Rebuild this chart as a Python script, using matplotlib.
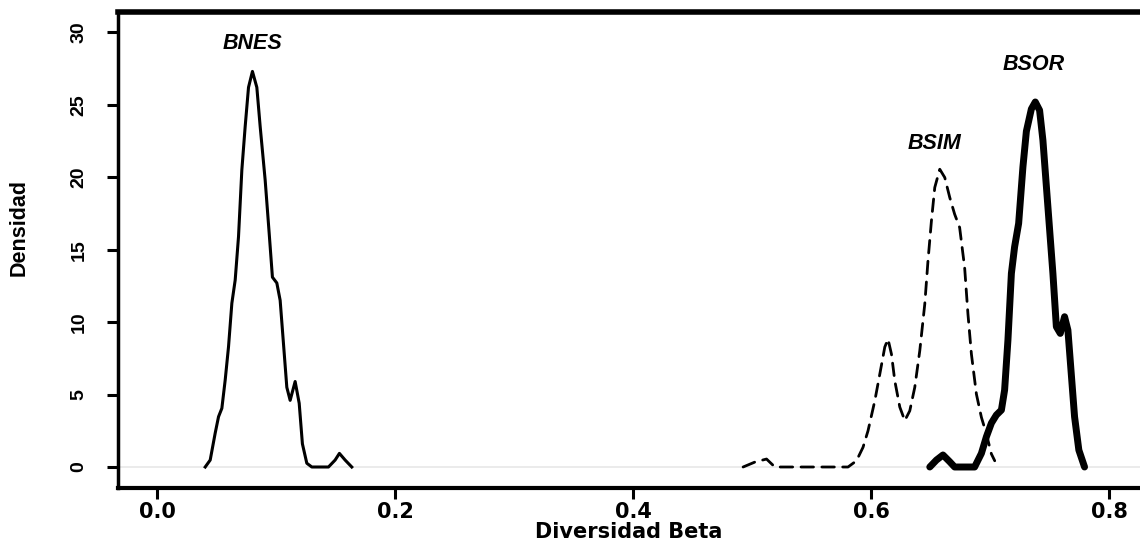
import matplotlib.pyplot as plt

# curvas de densidad
bnes_x = [0.0403, 0.0445, 0.0487, 0.0515, 0.0543, 0.0571, 0.0599, 0.0627, 0.0655,
          0.0683, 0.0711, 0.0739, 0.0767, 0.0800, 0.0837, 0.0865, 0.0907, 0.0941,
          0.0968, 0.1005, 0.1033, 0.1061, 0.1089, 0.1117, 0.1159, 0.1193, 0.1220,
          0.1257, 0.1299, 0.1439, 0.1495, 0.1531, 0.1579, 0.1635]
bnes_y = [0.0, 0.48, 2.34, 3.47, 4.05, 6.0, 8.3, 11.3, 12.9,
          15.9, 20.5, 23.5, 26.2, 27.3, 26.2, 23.5, 19.8, 16.1,
          13.1, 12.7, 11.5, 8.5, 5.5, 4.6, 5.9, 4.4, 1.6,
          0.26, 0.0, 0.0, 0.48, 0.94, 0.48, 0.0]

bsim_x = [0.4924, 0.5023, 0.5121, 0.5191, 0.5806, 0.5877, 0.5932, 0.5974, 0.6031,
          0.6073, 0.6115, 0.6142, 0.6171, 0.6199, 0.6241, 0.6283, 0.6325, 0.6367,
          0.6409, 0.6451, 0.6478, 0.6507, 0.6535, 0.6577, 0.6619, 0.6661, 0.6702,
          0.6744, 0.6786, 0.6814, 0.6843, 0.6885, 0.6927, 0.6969, 0.7011, 0.7039]
bsim_y = [0.0, 0.34, 0.55, 0.0, 0.0, 0.43, 1.36, 2.5, 4.57,
          6.41, 8.28, 8.83, 7.79, 5.95, 4.14, 3.2, 3.88, 5.5,
          8.02, 11.24, 14.23, 16.99, 19.29, 20.55, 19.98, 18.6, 17.45,
          16.53, 13.77, 10.55, 7.79, 5.03, 3.43, 2.28, 0.9, 0.43]

bsor_x = [0.6493, 0.6549, 0.6604, 0.6660, 0.6702, 0.6870, 0.6927, 0.6969, 0.7011,
          0.7053, 0.7095, 0.7122, 0.7150, 0.7179, 0.7206, 0.7240, 0.7276, 0.7305,
          0.7347, 0.7380, 0.7416, 0.7444, 0.7486, 0.7528, 0.7557, 0.7590, 0.7626,
          0.7654, 0.7682, 0.7710, 0.7746, 0.7794]
bsor_y = [0.0, 0.48, 0.83, 0.37, 0.0, 0.0, 0.94, 2.09, 3.03,
          3.59, 3.93, 5.31, 8.76, 13.36, 15.19, 16.81, 20.71, 23.17,
          24.71, 25.19, 24.62, 22.55, 17.95, 13.36, 9.68, 9.22, 10.37,
          9.45, 6.46, 3.47, 1.17, 0.0]

labels = ['BNES', 'BSIM', 'BSOR']
label_x = [0.080, 0.653, 0.737]
label_y = [29.2, 22.3, 27.8]

fig = plt.figure(figsize=(11.4, 5.46), dpi=100)
ax = fig.add_axes([0.1035, 0.1062, 0.8965, 0.8718])

ax.axhline(0, color='#e8e8e8', lw=1.2, zorder=0)
ax.plot(bnes_x, bnes_y, color='black', lw=2.2, solid_joinstyle='round')
ax.plot(bsim_x, bsim_y, color='black', lw=2.0, linestyle=(0, (4.5, 3)),
        dash_capstyle='round')
ax.plot(bsor_x, bsor_y, color='black', lw=5.0, solid_joinstyle='round',
        solid_capstyle='round')

for t, x, y in zip(labels, label_x, label_y):
    ax.text(x, y, t, ha='center', va='center', fontsize=15.5, fontweight='bold',
            style='italic', family='Liberation Sans')

ax.set_xlim(-0.033, 0.826)
ax.set_ylim(-1.45, 31.4)
ax.set_xticks([0.0, 0.2, 0.4, 0.6, 0.8])
ax.set_xticklabels(['0.0', '0.2', '0.4', '0.6', '0.8'])
ax.set_yticks([0, 5, 10, 15, 20, 25, 30])

for lab in ax.get_xticklabels():
    lab.set_fontsize(15)
    lab.set_fontweight('bold')
    lab.set_family('DejaVu Sans')
for lab in ax.get_yticklabels():
    lab.set_fontsize(14)
    lab.set_fontweight('bold')
    lab.set_family('Liberation Sans')
    lab.set_rotation(90)
    lab.set_va('center')

ax.tick_params(axis='both', length=8, width=2.2, color='black')
ax.tick_params(axis='x', pad=2)
ax.tick_params(axis='y', pad=14)

ax.spines['right'].set_visible(False)
ax.spines['top'].set_linewidth(4)
ax.spines['bottom'].set_linewidth(3)
ax.spines['left'].set_linewidth(2.5)

ax.set_xlabel('Diversidad Beta', fontsize=15, fontweight='bold', family='DejaVu Sans')
ax.xaxis.set_label_coords(0.5, -0.0714)
ax.xaxis.label.set_va('top')
ax.set_ylabel('Densidad', fontsize=15.5, fontweight='bold', family='Liberation Sans')
ax.yaxis.set_label_coords(-0.086, 0.548)

fig.savefig('out.png', dpi=100)
